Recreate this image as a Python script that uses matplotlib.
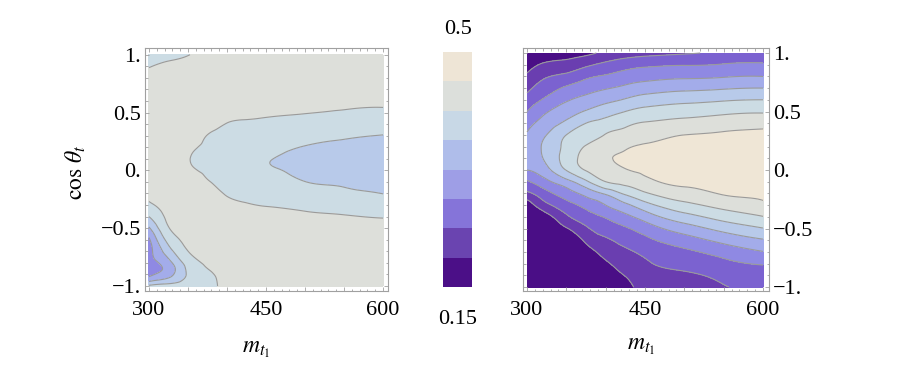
import numpy as np
import matplotlib
matplotlib.use('Agg')
import matplotlib.pyplot as plt
import matplotlib.tri as mtri
from matplotlib.colors import ListedColormap, BoundaryNorm
from matplotlib.cm import ScalarMappable
from matplotlib.ticker import FixedLocator, FixedFormatter, MultipleLocator

plt.rcParams['font.family'] = ['Liberation Serif', 'DejaVu Serif']
plt.rcParams['mathtext.fontset'] = 'stix'

# grid
m_vals = [300, 325, 350, 375, 400, 425, 450, 500, 550, 600]
cos_vals = [1.0, 0.9, 0.8, 0.7, 0.6, 0.5, 0.4, 0.3, 0.2, 0.1, 0.0,
            -0.1, -0.2, -0.3, -0.4, -0.5, -0.6, -0.7, -0.8, -0.9, -1.0]

# one list per m column, cos from 1 down to -1
left_cols = [
    [0.3994, 0.4108, 0.4256, 0.4344, 0.4388, 0.4409, 0.4409, 0.4409, 0.4409, 0.4388, 0.4344, 0.4300, 0.4221, 0.4051, 0.3687, 0.3195, 0.2747, 0.2659, 0.2638, 0.2681, 0.3775],
    [0.4038, 0.4191, 0.4300, 0.4366, 0.4409, 0.4409, 0.4409, 0.4409, 0.4409, 0.4388, 0.4366, 0.4344, 0.4315, 0.4270, 0.4210, 0.4100, 0.3830, 0.3500, 0.3097, 0.3075, 0.3906],
    [0.4112, 0.4256, 0.4344, 0.4388, 0.4388, 0.4366, 0.4335, 0.4291, 0.4213, 0.4151, 0.4191, 0.4265, 0.4322, 0.4344, 0.4344, 0.4300, 0.4234, 0.4121, 0.3863, 0.3731, 0.3906],
    [0.4256, 0.4344, 0.4388, 0.4388, 0.4366, 0.4322, 0.4234, 0.4118, 0.4059, 0.3994, 0.4066, 0.4147, 0.4256, 0.4322, 0.4344, 0.4344, 0.4322, 0.4278, 0.4191, 0.4059, 0.4038],
    [0.4322, 0.4366, 0.4388, 0.4366, 0.4300, 0.4213, 0.4116, 0.4033, 0.3950, 0.3867, 0.3937, 0.4020, 0.4099, 0.4213, 0.4300, 0.4344, 0.4366, 0.4344, 0.4300, 0.4234, 0.4191],
    [0.4344, 0.4388, 0.4388, 0.4344, 0.4278, 0.4191, 0.4081, 0.3985, 0.3889, 0.3793, 0.3854, 0.3950, 0.4046, 0.4147, 0.4256, 0.4322, 0.4366, 0.4366, 0.4344, 0.4300, 0.4256],
    [0.4366, 0.4388, 0.4366, 0.4322, 0.4256, 0.4169, 0.4055, 0.3946, 0.3836, 0.3714, 0.3740, 0.3889, 0.4003, 0.4112, 0.4234, 0.4309, 0.4353, 0.4366, 0.4366, 0.4344, 0.4300],
    [0.4388, 0.4388, 0.4344, 0.4300, 0.4221, 0.4138, 0.3981, 0.3819, 0.3670, 0.3583, 0.3613, 0.3692, 0.3863, 0.4038, 0.4191, 0.4291, 0.4344, 0.4366, 0.4366, 0.4353, 0.4322],
    [0.4388, 0.4379, 0.4335, 0.4278, 0.4213, 0.4090, 0.3906, 0.3723, 0.3622, 0.3543, 0.3561, 0.3639, 0.3766, 0.3959, 0.4151, 0.4265, 0.4331, 0.4366, 0.4379, 0.4366, 0.4344],
    [0.4388, 0.4370, 0.4322, 0.4265, 0.4199, 0.4051, 0.3858, 0.3679, 0.3604, 0.3513, 0.3534, 0.3609, 0.3683, 0.3898, 0.4103, 0.4248, 0.4322, 0.4357, 0.4374, 0.4370, 0.4353],
]

right_cols = [
    [0.1060, 0.1320, 0.1577, 0.1835, 0.2102, 0.2376, 0.2667, 0.2850, 0.2925, 0.2890, 0.2812, 0.2309, 0.1845, 0.1238, 0.1019, 0.0975, 0.0975, 0.0975, 0.0975, 0.0975, 0.0975],
    [0.1250, 0.1580, 0.1908, 0.2184, 0.2469, 0.2781, 0.3020, 0.3252, 0.3372, 0.3342, 0.3131, 0.2715, 0.2256, 0.1840, 0.1356, 0.1106, 0.0997, 0.0975, 0.0975, 0.0975, 0.0975],
    [0.1350, 0.1650, 0.2060, 0.2440, 0.2764, 0.3052, 0.3351, 0.3689, 0.3807, 0.3869, 0.3704, 0.3096, 0.2605, 0.2207, 0.1858, 0.1460, 0.1063, 0.0975, 0.0975, 0.0975, 0.0975],
    [0.1400, 0.1850, 0.2291, 0.2627, 0.2958, 0.3290, 0.3689, 0.3931, 0.4150, 0.4278, 0.4150, 0.3600, 0.2958, 0.2506, 0.2171, 0.1879, 0.1588, 0.1296, 0.1106, 0.1019, 0.1019],
    [0.1600, 0.2040, 0.2428, 0.2778, 0.3128, 0.3509, 0.3853, 0.4142, 0.4313, 0.4499, 0.4323, 0.4124, 0.3323, 0.2812, 0.2415, 0.2129, 0.1872, 0.1653, 0.1434, 0.1281, 0.1194],
    [0.1730, 0.2191, 0.2569, 0.2907, 0.3290, 0.3689, 0.4024, 0.4278, 0.4497, 0.4646, 0.4535, 0.4262, 0.3760, 0.3153, 0.2693, 0.2325, 0.2075, 0.1860, 0.1689, 0.1517, 0.1369],
    [0.1787, 0.2290, 0.2659, 0.3035, 0.3444, 0.3828, 0.4158, 0.4414, 0.4613, 0.4746, 0.4647, 0.4453, 0.4070, 0.3523, 0.3007, 0.2574, 0.2260, 0.2030, 0.1872, 0.1763, 0.1675],
    [0.1894, 0.2352, 0.2736, 0.3146, 0.3562, 0.3943, 0.4271, 0.4563, 0.4688, 0.4814, 0.4763, 0.4638, 0.4403, 0.3994, 0.3523, 0.3031, 0.2614, 0.2288, 0.2069, 0.1872, 0.1784],
    [0.2021, 0.2402, 0.2782, 0.3207, 0.3644, 0.4030, 0.4368, 0.4611, 0.4731, 0.4851, 0.4829, 0.4710, 0.4592, 0.4277, 0.3863, 0.3396, 0.2944, 0.2546, 0.2258, 0.2044, 0.1916],
    [0.2052, 0.2432, 0.2811, 0.3251, 0.3689, 0.4075, 0.4445, 0.4646, 0.4768, 0.4891, 0.4892, 0.4772, 0.4651, 0.4469, 0.4108, 0.3669, 0.3208, 0.2794, 0.2413, 0.2134, 0.1981],
]

levels = [-1.0, 0.15, 0.19375, 0.2375, 0.28125, 0.325, 0.36875, 0.4125, 0.45625, 2.0]
band_colors = ['#4a0e86', '#6a3eb0', '#7b62d0', '#8f89e3', '#a3acea',
               '#b8caea', '#ccdce4', '#dddfda', '#efe6d6']

cb_levels = [0.15, 0.19375, 0.2375, 0.28125, 0.325, 0.36875, 0.4125, 0.45625, 0.5]
cb_colors = ['#4b0f87', '#6a44b0', '#8574d9', '#9e9ee6', '#afbdea',
             '#c8d8e6', '#dcdfdb', '#eee5d6']

line_col = '#9a9a9a'
frame_col = '#a0a0a0'

fig = plt.figure(figsize=(9.13, 3.71), dpi=100)
ax1 = fig.add_axes([145/913, 80/371, 243/913, 243/371])
ax2 = fig.add_axes([523/913, 80/371, 246/913, 243/371])
cax = fig.add_axes([443/913, 84/371, 29/913, 235/371])

# triangulate in unit square so the smoothing treats both axes alike
mm, cc = np.meshgrid(m_vals, cos_vals)
tri = mtri.Triangulation((mm.ravel() - 300) / 300.0, (cc.ravel() + 1) / 2.0)
refiner = mtri.UniformTriRefiner(tri)


def draw_panel(ax, cols, xlim, ylim):
    z = np.array(cols).T.ravel()
    interp = mtri.CubicTriInterpolator(tri, z, kind='min_E')
    tri_f, z_f = refiner.refine_field(z, triinterpolator=interp, subdiv=4)
    tri_d = mtri.Triangulation(tri_f.x * 300 + 300, tri_f.y * 2 - 1, tri_f.triangles)
    ax.tricontourf(tri_d, z_f, levels=levels, colors=band_colors)
    ax.tricontour(tri_d, z_f, levels=levels[1:-1], colors=line_col, linewidths=0.8)
    ax.set_xlim(*xlim)
    ax.set_ylim(*ylim)
    ax.xaxis.set_major_locator(FixedLocator([300, 350, 400, 450, 500, 550, 600]))
    ax.xaxis.set_major_formatter(FixedFormatter(['300', '', '', '450', '', '', '600']))
    ax.xaxis.set_minor_locator(MultipleLocator(10))
    ax.yaxis.set_major_locator(FixedLocator([-1, -0.5, 0, 0.5, 1]))
    ax.yaxis.set_major_formatter(FixedFormatter(['\u22121.', '\u22120.5', '0.', '0.5', '1.']))
    ax.yaxis.set_minor_locator(MultipleLocator(0.1))
    ax.tick_params(which='both', direction='in', top=True, bottom=True,
                   left=True, right=True, color=frame_col, width=0.6,
                   labelsize=16)
    ax.tick_params(which='major', length=3)
    ax.tick_params(which='minor', length=1.8)
    ax.tick_params(axis='x', pad=7)
    ax.tick_params(axis='y', pad=3)
    for s in ax.spines.values():
        s.set_color(frame_col)
        s.set_linewidth(0.8)


draw_panel(ax1, left_cols, (294.9, 606.4), (-1.043, 1.058))
draw_panel(ax2, right_cols, (294.9, 607.6), (-1.034, 1.043))
ax2.tick_params(axis='y', labelleft=False, labelright=True)

sm = ScalarMappable(norm=BoundaryNorm(cb_levels, len(cb_colors)),
                    cmap=ListedColormap(cb_colors))
cb = fig.colorbar(sm, cax=cax)
cb.outline.set_visible(False)
cax.yaxis.set_ticks([])
cax.yaxis.set_ticks([], minor=True)
cax.tick_params(which='both', length=0)

fig.text(458/913, 1 - 30/371, '0.5', ha='center', va='center', fontsize=16)
fig.text(458/913, 1 - 319/371, '0.15', ha='center', va='center', fontsize=16)

fig.text(76/913, 1 - 172/371, r'$\cos\,\theta_t$', rotation=90,
         ha='center', va='center', fontsize=17)
fig.text(256/913, 1 - 350/371, r'$m_{t_1}$', ha='center', va='center', fontsize=17)
fig.text(641/913, 1 - 346/371, r'$m_{t_1}$', ha='center', va='center', fontsize=17)

fig.savefig('out.png', dpi=100)
